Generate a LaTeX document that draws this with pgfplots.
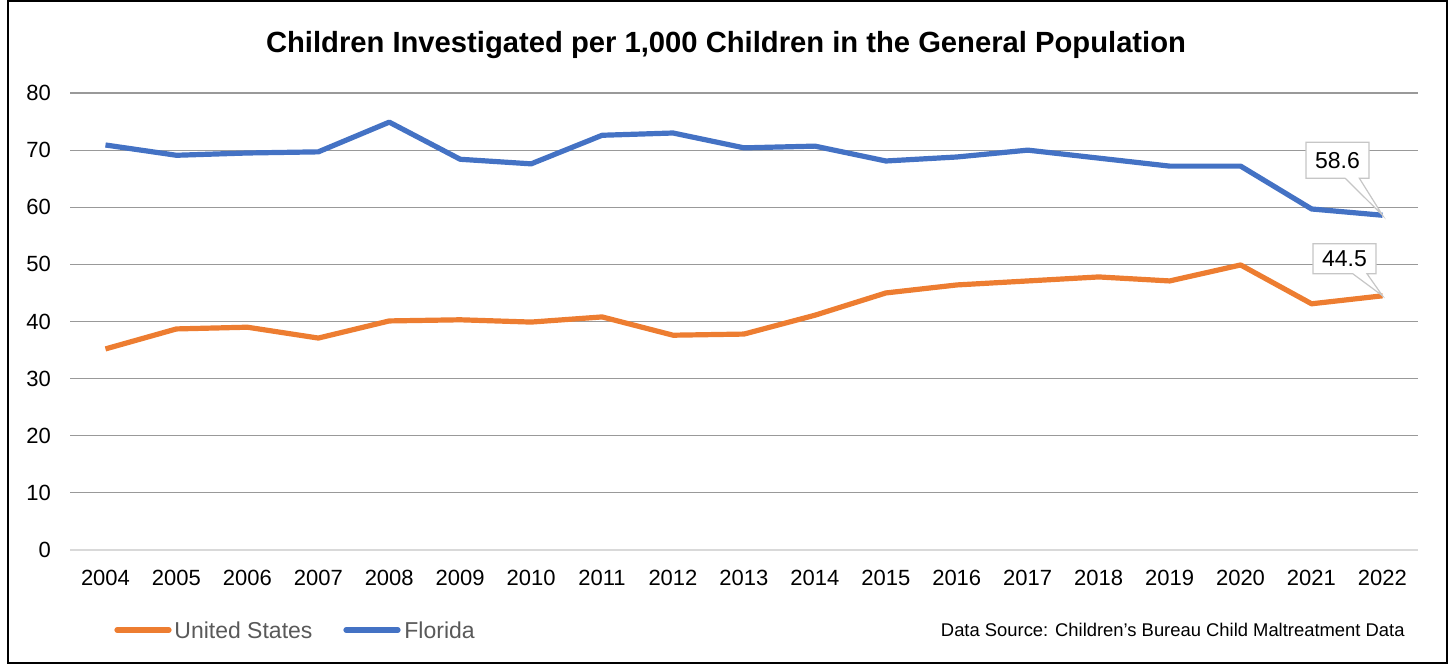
\documentclass[border=0pt]{standalone}
\usepackage{pgfplots}
\pgfplotsset{compat=1.18}
\usepackage{fontspec}
\setmainfont{Liberation Sans}
\usetikzlibrary{shapes.callouts}
\definecolor{usorange}{HTML}{ED7D31}
\definecolor{flblue}{HTML}{4472C4}
\definecolor{gridgray}{HTML}{999999}
\definecolor{basegray}{HTML}{D9D9D9}
\definecolor{legtext}{HTML}{595959}

\begin{document}
\begin{tikzpicture}[x=1pt,y=1pt]
% chart area is 726pt x 332pt (1px = 0.5pt)
\useasboundingbox (0,0) rectangle (726,332);
\draw[black, line width=0.6pt] (4,0.5) rectangle (723.5,331.5);
\node[font=\fontsize{14.6}{17}\selectfont\bfseries] at (363,309.5)
  {Children Investigated per 1,000 Children in the General Population};

\begin{axis}[
    at={(35pt,57pt)}, anchor=origin,
    scale only axis,
    width=674pt, height=228.5pt,
    xmin=2003.5, xmax=2022.5,
    ymin=0, ymax=80,
    xtick={2004,...,2022},
    ytick={10,20,...,80},
    extra y ticks={0},
    extra y tick style={grid style={basegray, line width=0.7pt}},
    xticklabel style={/pgf/number format/1000 sep={}, yshift=-6.5pt},
    yticklabel style={xshift=-6pt},
    /pgf/number format/assume math mode=true,
    tick label style={font=\fontsize{11}{13}\selectfont, text=black},
    axis line style={draw=none},
    major tick length=0pt,
    ymajorgrids,
    grid style={gridgray, line width=0.6pt},
    clip=false,
]
\addplot[usorange, line width=2.6pt, line join=round] coordinates {
  (2004,35.2) (2005,38.7) (2006,39.0) (2007,37.1) (2008,40.1) (2009,40.3)
  (2010,39.9) (2011,40.8) (2012,37.6) (2013,37.8) (2014,41.1) (2015,45.0)
  (2016,46.4) (2017,47.1) (2018,47.8) (2019,47.1) (2020,49.9) (2021,43.1)
  (2022,44.5)
};
\addplot[flblue, line width=2.6pt, line join=round] coordinates {
  (2004,70.9) (2005,69.1) (2006,69.5) (2007,69.7) (2008,74.9) (2009,68.4)
  (2010,67.6) (2011,72.6) (2012,73.0) (2013,70.4) (2014,70.7) (2015,68.1)
  (2016,68.8) (2017,70.0) (2018,68.6) (2019,67.2) (2020,67.2) (2021,59.7)
  (2022,58.6)
};
\node[rectangle callout, draw=gray!45, fill=white, line width=0.6pt,
  minimum width=31.5pt, minimum height=18pt, inner sep=1pt,
  font=\fontsize{11.5}{13}\selectfont,
  callout absolute pointer={(axis cs:2022,58.6)}]
  at ([xshift=-22.5pt,yshift=27.5pt]axis cs:2022,58.6) {58.6};
\node[rectangle callout, draw=gray!45, fill=white, line width=0.6pt,
  minimum width=31.5pt, minimum height=15pt, inner sep=1pt,
  font=\fontsize{11.5}{13}\selectfont,
  callout absolute pointer={(axis cs:2022,44.5)}]
  at ([xshift=-19pt,yshift=18.5pt]axis cs:2022,44.5) {44.5};
\end{axis}

% legend
\draw[usorange, line width=2.6pt, line cap=round] (58.5,17) -- (84.5,17);
\node[anchor=west, inner sep=0pt, text=legtext, font=\fontsize{11.5}{13}\selectfont] at (87,17) {United States};
\draw[flblue, line width=2.6pt, line cap=round] (173,17) -- (199,17);
\node[anchor=west, inner sep=0pt, text=legtext, font=\fontsize{11.5}{13}\selectfont] at (202,17) {Florida};
\node[anchor=east, inner sep=0pt, font=\fontsize{9.2}{11}\selectfont] at (702.5,17)
  {Data Source: Children's Bureau Child Maltreatment Data};
\end{tikzpicture}
\end{document}
